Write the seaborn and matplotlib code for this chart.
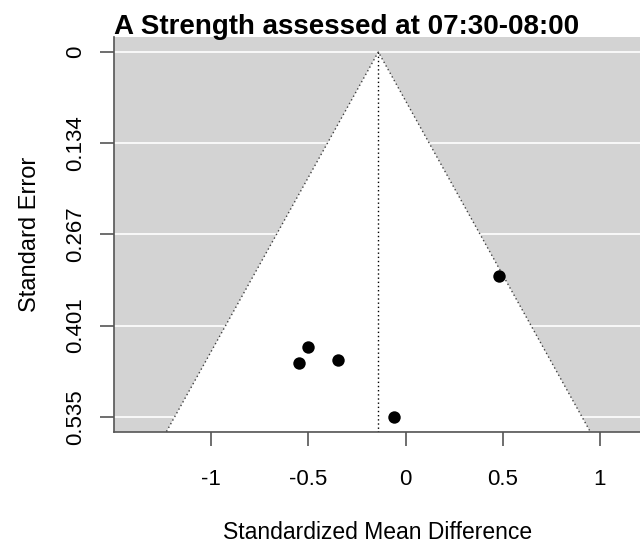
import numpy as np
import pandas as pd
import matplotlib
matplotlib.use("Agg")
import matplotlib.pyplot as plt
import seaborn as sns

# study estimates
smd = [0.482, -0.503, -0.548, -0.346, -0.057]
se = [0.329, 0.433, 0.456, 0.451, 0.535]
center = -0.14
ytick_vals = [0, 0.1337, 0.2673, 0.401, 0.5346]
ytick_labels = ["0", "0.134", "0.267", "0.401", "0.535"]
xtick_vals = [-1, -0.5, 0, 0.5, 1]
xtick_labels = ["-1", "-0.5", "0", "0.5", "1"]

df = pd.DataFrame({"smd": smd, "se": se})

sns.set_style("white")
plt.rcParams["font.family"] = ["Liberation Sans", "DejaVu Sans"]
plt.rcParams["text.color"] = "black"
plt.rcParams["axes.labelcolor"] = "black"
plt.rcParams["xtick.labelcolor"] = "black"
plt.rcParams["ytick.labelcolor"] = "black"

fig = plt.figure(figsize=(6.4, 5.46), dpi=100)
ax = fig.add_axes([0.1786, 0.2097, 0.8214, 0.7231])
ax.set_facecolor("#d3d3d3")

ylo, yhi = -0.0224, 0.5563
ax.set_xlim(-1.499, 1.207)
ax.set_ylim(yhi, ylo)

# white gridlines at tick positions
for v in ytick_vals:
    ax.axhline(v, color="white", lw=1.2, zorder=1)

# funnel
se_b = yhi
fx = [center - 1.96 * se_b, center, center + 1.96 * se_b]
fy = [se_b, 0, se_b]
ax.fill(fx, fy, color="white", zorder=2, lw=0)
ax.plot(fx, fy, color="#404040", ls=(0, (1, 2)), lw=1, zorder=3)
ax.plot([center, center], [0, se_b], color="black", ls=(0, (1, 2)), lw=1, zorder=3)

sns.scatterplot(data=df, x="smd", y="se", ax=ax, color="black", s=80,
                edgecolor="black", linewidth=0, zorder=5, legend=False)

for s in ["top", "right"]:
    ax.spines[s].set_visible(False)
for s in ["left", "bottom"]:
    ax.spines[s].set_color("#555555")
    ax.spines[s].set_linewidth(1.2)

ax.set_yticks(ytick_vals)
ax.set_yticklabels(ytick_labels, rotation=90, va="center", fontsize=16)
ax.set_xticks(xtick_vals)
ax.set_xticklabels(xtick_labels, fontsize=16)
ax.tick_params(axis="both", length=10, width=1.2, color="#555555",
               labelcolor="black", direction="out", bottom=True, left=True)
ax.tick_params(axis="y", pad=10)
ax.tick_params(axis="x", pad=17)

ax.set_xlabel("Standardized Mean Difference", fontsize=16.5, labelpad=22)
ax.set_ylabel("Standard Error", fontsize=17, labelpad=18)
ax.set_title("A Strength assessed at 07:30-08:00", loc="left", fontsize=20,
             fontweight="bold", pad=2, x=0.0, color="black")

fig.savefig("out.png", dpi=100)
